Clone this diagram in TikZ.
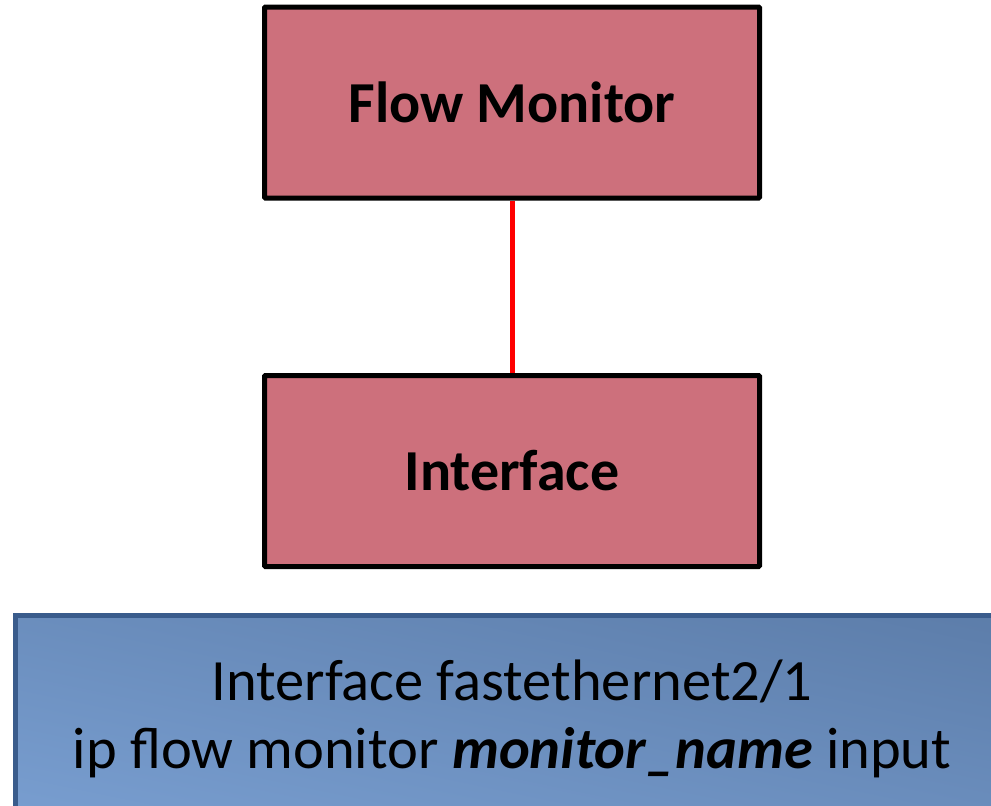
\documentclass[tikz,border=0pt]{standalone}
\usepackage{fontspec}
\setmainfont{Carlito}
\definecolor{boxred}{RGB}{205,112,124}
\definecolor{cfgedge}{RGB}{58,92,140}
% diagonal blue gradient: light at lower left, dark at upper right
\pgfdeclarefunctionalshading{cfgdiag}{\pgfpointorigin}{\pgfpoint{100bp}{100bp}}{}{%
  add 200 div dup dup -0.223 mul 0.529 add 3 1 roll
  -0.262 mul 0.686 add exch -0.306 mul 0.894 add}
\begin{document}
\begin{tikzpicture}[x=1pt,y=-1pt,
  entity/.style={draw=black, line width=5pt, fill=boxred, rounded corners=1pt,
    minimum width=495pt, minimum height=191pt, inner sep=0pt,
    font=\fontsize{58}{68}\selectfont\bfseries},
  link/.style={red, line width=5pt},
  cfgbox/.style={draw=cfgedge, line width=5pt, shading=cfgdiag,
    minimum width=993pt, minimum height=207pt, inner sep=0pt, align=center,
    font=\fontsize{58.5}{68}\selectfont}]
  \useasboundingbox (0,0) rectangle (991,806);
  \clip (0,0) rectangle (991,806);
  \node[entity] (fm) at (512,102.5) {Flow Monitor};
  \node[entity] (if) at (512,471) {Interface};
  \draw[link] (fm.south) -- (if.north);
  \node[cfgbox] (cfg) at (512,719) {Interface fastethernet2/1\\
    ip flow monitor \textbf{\textit{monitor\_name}} input};
\end{tikzpicture}
\end{document}
